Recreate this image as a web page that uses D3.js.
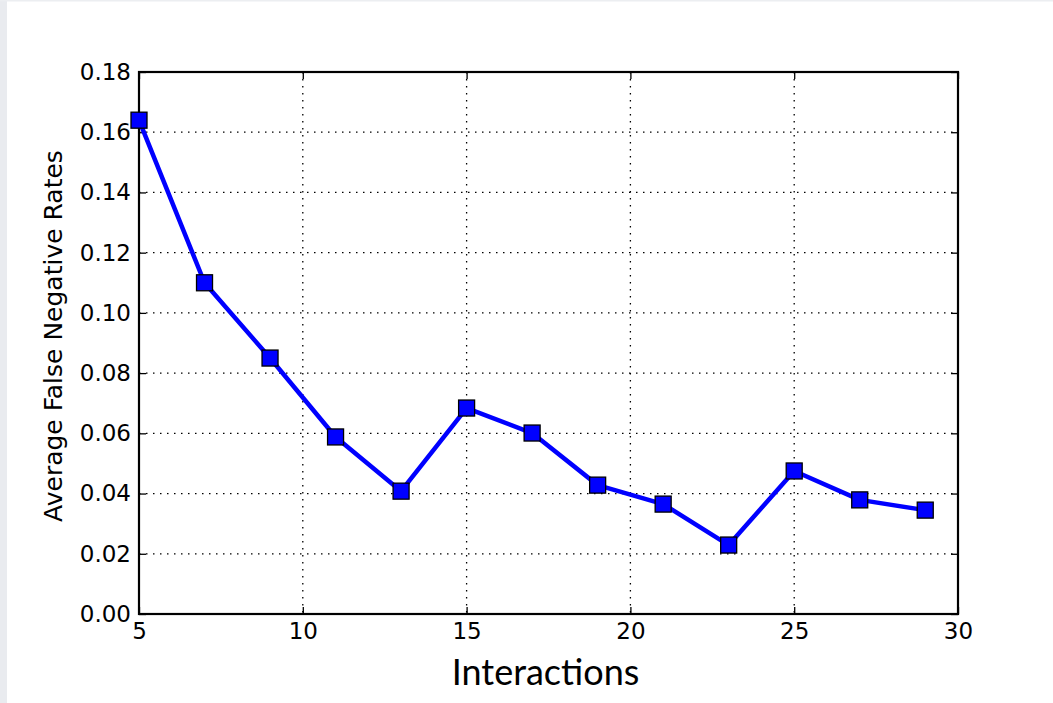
<!DOCTYPE html>
<html><head><meta charset="utf-8">
<script src="https://cdn.jsdelivr.net/npm/d3@7"></script>
<style>body{margin:0;background:#fff;}svg{display:block;}</style>
</head><body>
<svg id="c" width="1053" height="703"></svg>
<script>
const interactions = [5, 7, 9, 11, 13, 15, 17, 19, 21, 23, 25, 27, 29];
const fnRates = [0.164, 0.110, 0.085, 0.0588, 0.0408, 0.0684, 0.0601, 0.0428, 0.0365, 0.0229, 0.0475, 0.0379, 0.0345];
const xTicks = [5, 10, 15, 20, 25, 30];
const yTicks = [0.00, 0.02, 0.04, 0.06, 0.08, 0.10, 0.12, 0.14, 0.16, 0.18];

const svg = d3.select("#c");
const L = 139, R = 958, T = 72, B = 614;
const x = d3.scaleLinear().domain([5, 30]).range([L, R]);
const y = d3.scaleLinear().domain([0, 0.18]).range([B, T]);

// faint page border strips
svg.append("rect").attr("x",0).attr("y",0).attr("width",7).attr("height",703).attr("fill","#e9ebef");
svg.append("rect").attr("x",0).attr("y",0).attr("width",1053).attr("height",1.5).attr("fill","#eceef1");

// grid
const g = svg.append("g");
g.selectAll(".gx").data(xTicks.slice(1,-1)).enter().append("line")
  .attr("x1",d=>x(d)).attr("x2",d=>x(d)).attr("y1",T).attr("y2",B)
  .attr("stroke","#000").attr("stroke-width",1.3).attr("stroke-dasharray","1.5,5.5");
g.selectAll(".gy").data(yTicks.slice(1,-1)).enter().append("line")
  .attr("y1",d=>y(d)).attr("y2",d=>y(d)).attr("x1",L).attr("x2",R)
  .attr("stroke","#000").attr("stroke-width",1.3).attr("stroke-dasharray","1.5,5.5");

// axes with inward ticks
const fmt = d3.format(".2f");
const axB = svg.append("g").attr("transform",`translate(0,${B})`)
  .call(d3.axisBottom(x).tickValues(xTicks).tickSize(-7).tickPadding(8).tickFormat(d3.format("d")));
const axT = svg.append("g").attr("transform",`translate(0,${T})`)
  .call(d3.axisTop(x).tickValues(xTicks).tickSize(-7).tickFormat(""));
const axL = svg.append("g").attr("transform",`translate(${L},0)`)
  .call(d3.axisLeft(y).tickValues(yTicks).tickSize(-7).tickPadding(8).tickFormat(fmt));
const axR = svg.append("g").attr("transform",`translate(${R},0)`)
  .call(d3.axisRight(y).tickValues(yTicks).tickSize(-7).tickFormat(""));
[axB,axT,axL,axR].forEach(a=>{
  a.attr("font-size",null).attr("font-family",null);
  a.select(".domain").remove();
  a.selectAll(".tick line").attr("stroke","#000").attr("stroke-width",1.3);
  a.selectAll("text").style("font-family","'DejaVu Sans'").style("font-size","23px").attr("fill","#000");
});
axB.selectAll("text").attr("dy","0.76em");

// frame
svg.append("rect").attr("x",L).attr("y",T).attr("width",R-L).attr("height",B-T)
  .attr("fill","none").attr("stroke","#000").attr("stroke-width",2.2);

// line
const pts = interactions.map((d,i)=>[d,fnRates[i]]);
svg.append("path").datum(pts)
  .attr("d", d3.line().x(d=>x(d[0])).y(d=>y(d[1])))
  .attr("fill","none").attr("stroke","#0000ff").attr("stroke-width",4.5).attr("stroke-linejoin","round");

// markers
const s = 16;
svg.selectAll(".m").data(pts).enter().append("rect")
  .attr("x",d=>x(d[0])-s/2).attr("y",d=>y(d[1])-s/2).attr("width",s).attr("height",s)
  .attr("fill","#0000ff").attr("stroke","#000").attr("stroke-width",1.3);

// labels
svg.append("text").attr("x",(L+R)/2 - 3).attr("y",685).attr("text-anchor","middle")
  .style("font-family","Lato, 'Open Sans', sans-serif").style("font-size","36px").attr("fill","#000")
  .text("Interactions");
svg.append("text").attr("transform",`translate(62,${(T+B)/2 - 7}) rotate(-90)`).attr("text-anchor","middle")
  .style("font-family","'DejaVu Sans'").style("font-size","25px").attr("fill","#000")
  .text("Average False Negative Rates");
</script>
</body></html>
